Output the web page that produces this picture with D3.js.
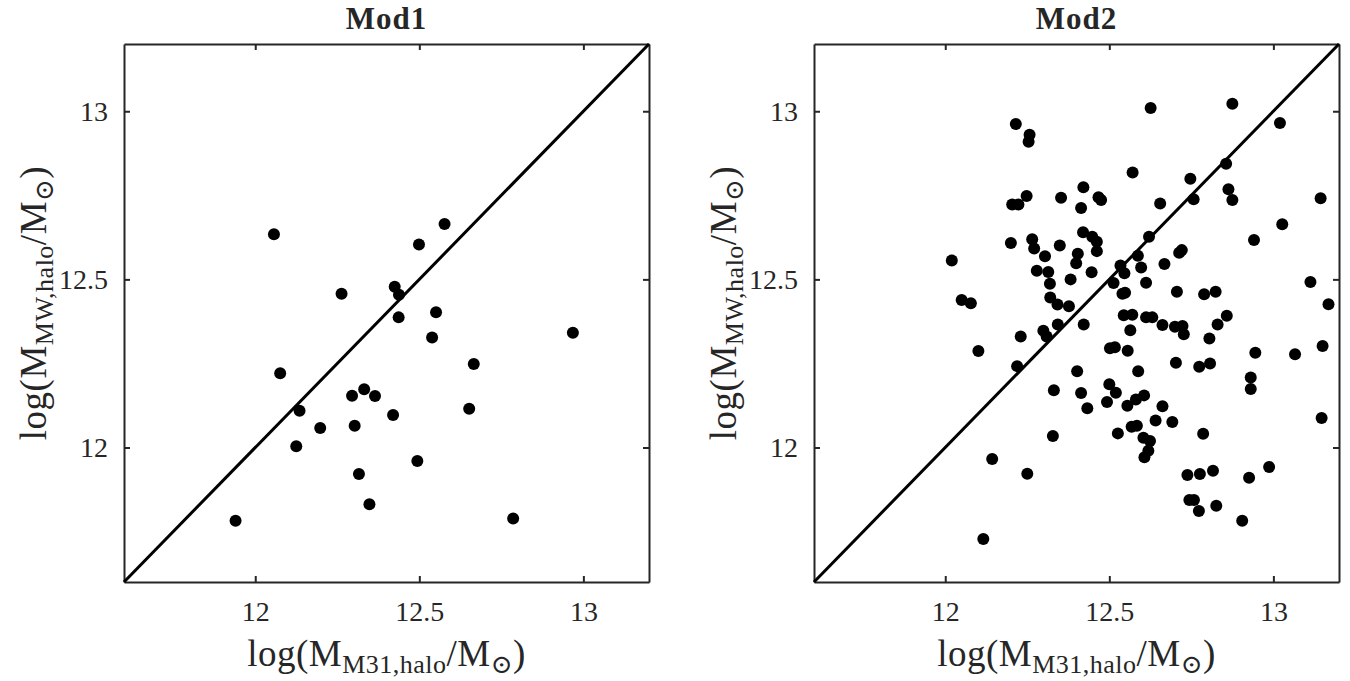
<!DOCTYPE html>
<html>
<head>
<meta charset="utf-8">
<script src="https://cdnjs.cloudflare.com/ajax/libs/d3/7.8.5/d3.min.js"></script>
<style>
  body { margin: 0; background: #fff; }
  text { font-family: 'Liberation Serif', 'DejaVu Serif', serif; fill: #262626; }
</style>
</head>
<body>
<div id="draw"></div>
<script>
// values (log halo masses)
var mod1X = [11.940, 12.057, 12.076, 12.135, 12.125, 12.198, 12.263, 12.295, 12.303, 12.332,
	12.365, 12.316, 12.348, 12.425, 12.438, 12.437, 12.420, 12.499, 12.494, 12.551,
	12.539, 12.577, 12.666, 12.652, 12.786, 12.968];
var mod1Y = [11.782, 12.634, 12.221, 12.109, 12.004, 12.058, 12.457, 12.154, 12.065, 12.173,
	12.153, 11.921, 11.831, 12.478, 12.454, 12.387, 12.097, 12.604, 11.960, 12.402,
	12.327, 12.665, 12.248, 12.115, 11.789, 12.341];

var mod2X = [12.626, 12.875, 13.020, 12.215, 12.257, 12.254, 12.571, 12.856, 12.747, 12.421,
	12.248, 12.204, 12.223, 12.353, 12.467, 12.475, 12.414, 12.655, 12.757, 12.863,
	12.875, 13.144, 13.027, 12.941, 12.200, 12.265, 12.271, 12.349, 12.420, 12.448,
	12.462, 12.462, 12.404, 12.399, 12.621, 12.713, 12.721, 12.020, 12.304, 12.279,
	12.314, 12.319, 12.382, 12.446, 12.587, 12.534, 12.546, 12.597, 12.668, 12.513,
	12.612, 13.113, 12.050, 12.078, 12.320, 12.342, 12.377, 12.540, 12.548, 12.706,
	12.789, 12.824, 13.168, 12.544, 12.570, 12.612, 12.631, 12.662, 12.700, 12.723,
	12.727, 12.805, 12.830, 12.858, 12.564, 12.422, 12.343, 12.299, 12.309, 12.230,
	12.101, 12.219, 12.502, 12.517, 12.556, 12.703, 12.774, 12.807, 12.945, 13.066,
	13.150, 12.402, 12.588, 12.931, 12.931, 12.331, 12.414, 12.500, 12.520, 12.433,
	12.493, 12.555, 12.581, 12.606, 12.662, 12.641, 12.692, 13.147, 12.568, 12.584,
	12.526, 12.786, 12.604, 12.624, 12.619, 12.607, 12.328, 12.143, 12.250, 12.738,
	12.776, 12.816, 12.926, 12.987, 12.744, 12.758, 12.773, 12.826, 12.905, 12.116];
var mod2Y = [13.010, 13.022, 12.965, 12.962, 12.930, 12.909, 12.818, 12.844, 12.799, 12.774,
	12.748, 12.723, 12.723, 12.743, 12.744, 12.736, 12.712, 12.726, 12.738, 12.768,
	12.736, 12.741, 12.664, 12.617, 12.608, 12.619, 12.592, 12.601, 12.640, 12.627,
	12.612, 12.584, 12.576, 12.548, 12.627, 12.579, 12.587, 12.556, 12.569, 12.526,
	12.522, 12.487, 12.500, 12.521, 12.570, 12.541, 12.518, 12.535, 12.546, 12.489,
	12.490, 12.492, 12.439, 12.429, 12.446, 12.425, 12.420, 12.457, 12.460, 12.463,
	12.456, 12.463, 12.426, 12.393, 12.395, 12.387, 12.387, 12.364, 12.359, 12.361,
	12.337, 12.324, 12.366, 12.392, 12.349, 12.366, 12.366, 12.347, 12.330, 12.330,
	12.287, 12.242, 12.295, 12.298, 12.288, 12.252, 12.240, 12.250, 12.282, 12.277,
	12.302, 12.227, 12.227, 12.208, 12.174, 12.170, 12.162, 12.188, 12.163, 12.117,
	12.135, 12.124, 12.143, 12.155, 12.123, 12.080, 12.076, 12.088, 12.062, 12.065,
	12.042, 12.041, 12.029, 12.019, 11.990, 11.971, 12.034, 11.966, 11.922, 11.918,
	11.921, 11.931, 11.910, 11.942, 11.844, 11.844, 11.811, 11.827, 11.782, 11.728];

var titles = ['Mod1', 'Mod2'];
var tickVals = [12, 12.5, 13];
var tickLabels = ['12', '12.5', '13'];
var extent = [11.6, 13.2];

var W = 1350, H = 681;
var pw = 525, ph = 538;
var panels = [
	{ left: 124, top: 44, xs: mod1X, ys: mod1Y, title: titles[0] },
	{ left: 814, top: 44, xs: mod2X, ys: mod2Y, title: titles[1] }
];

var svg = d3.select('#draw').append('svg').attr('width', W).attr('height', H);

var axisCol = '#262626';

panels.forEach(function (p) {
	var g = svg.append('g').attr('transform', 'translate(' + p.left + ',' + p.top + ')');
	var x = d3.scaleLinear().domain(extent).range([0, pw]);
	var y = d3.scaleLinear().domain(extent).range([ph, 0]);
	var fmt = function (d, i) { return tickLabels[i]; };

	// axes with inward ticks on all four sides
	var bottom = g.append('g').attr('transform', 'translate(0,' + ph + ')')
		.call(d3.axisBottom(x).tickValues(tickVals).tickFormat(fmt).tickSizeInner(-6).tickSizeOuter(0).tickPadding(19));
	var top = g.append('g')
		.call(d3.axisTop(x).tickValues(tickVals).tickFormat('').tickSizeInner(-6).tickSizeOuter(0));
	var left = g.append('g')
		.call(d3.axisLeft(y).tickValues(tickVals).tickFormat(fmt).tickSizeInner(-6).tickSizeOuter(0).tickPadding(16));
	var right = g.append('g').attr('transform', 'translate(' + pw + ',0)')
		.call(d3.axisRight(y).tickValues(tickVals).tickFormat('').tickSizeInner(-6).tickSizeOuter(0));

	[bottom, top, left, right].forEach(function (a) {
		a.selectAll('path').attr('stroke', axisCol).attr('stroke-width', 2);
		a.selectAll('line').attr('stroke', axisCol).attr('stroke-width', 2);
		a.selectAll('text').style('font-family', "'Liberation Serif', serif")
			.style('font-size', '28px').attr('fill', axisCol);
	});

	// one-to-one line
	g.append('line')
		.attr('x1', x(extent[0])).attr('y1', y(extent[0]))
		.attr('x2', x(extent[1])).attr('y2', y(extent[1]))
		.attr('stroke', '#000').attr('stroke-width', 3);

	g.selectAll('circle.pt')
		.data(p.xs.map(function (v, i) { return [v, p.ys[i]]; }))
		.enter()
		.append('circle')
		.attr('class', 'pt')
		.attr('cx', function (d) { return x(d[0]); })
		.attr('cy', function (d) { return y(d[1]); })
		.attr('r', 6)
		.attr('fill', '#000');

	// title
	g.append('text')
		.attr('x', pw / 2).attr('y', -15)
		.attr('text-anchor', 'middle')
		.style('font-size', '31px').style('font-weight', 'bold')
		.style('letter-spacing', '1px')
		.attr('fill', '#000')
		.text(p.title);

	// x label
	var xl = g.append('text')
		.attr('x', pw / 2).attr('y', ph + 84)
		.attr('text-anchor', 'middle')
		.style('font-size', '37px')
		.style('letter-spacing', '0.5px')
		.attr('fill', axisCol);
	xl.append('tspan').text('log(M');
	xl.append('tspan').attr('baseline-shift', '-25%').style('font-size', '26px').text('M31,halo');
	xl.append('tspan').text('/M');
	xl.append('tspan').attr('baseline-shift', '-25%').style('font-size', '26px').text('\u2299');
	xl.append('tspan').text(')');

	// y label
	var yl = g.append('text')
		.attr('transform', 'translate(-78,' + (ph / 2 - 10) + ') rotate(-90)')
		.attr('text-anchor', 'middle')
		.style('font-size', '37px')
		.style('letter-spacing', '0.5px')
		.attr('fill', axisCol);
	yl.append('tspan').text('log(M');
	yl.append('tspan').attr('baseline-shift', '-25%').style('font-size', '26px').text('MW,halo');
	yl.append('tspan').text('/M');
	yl.append('tspan').attr('baseline-shift', '-25%').style('font-size', '26px').text('\u2299');
	yl.append('tspan').text(')');
});
</script>
</body>
</html>
